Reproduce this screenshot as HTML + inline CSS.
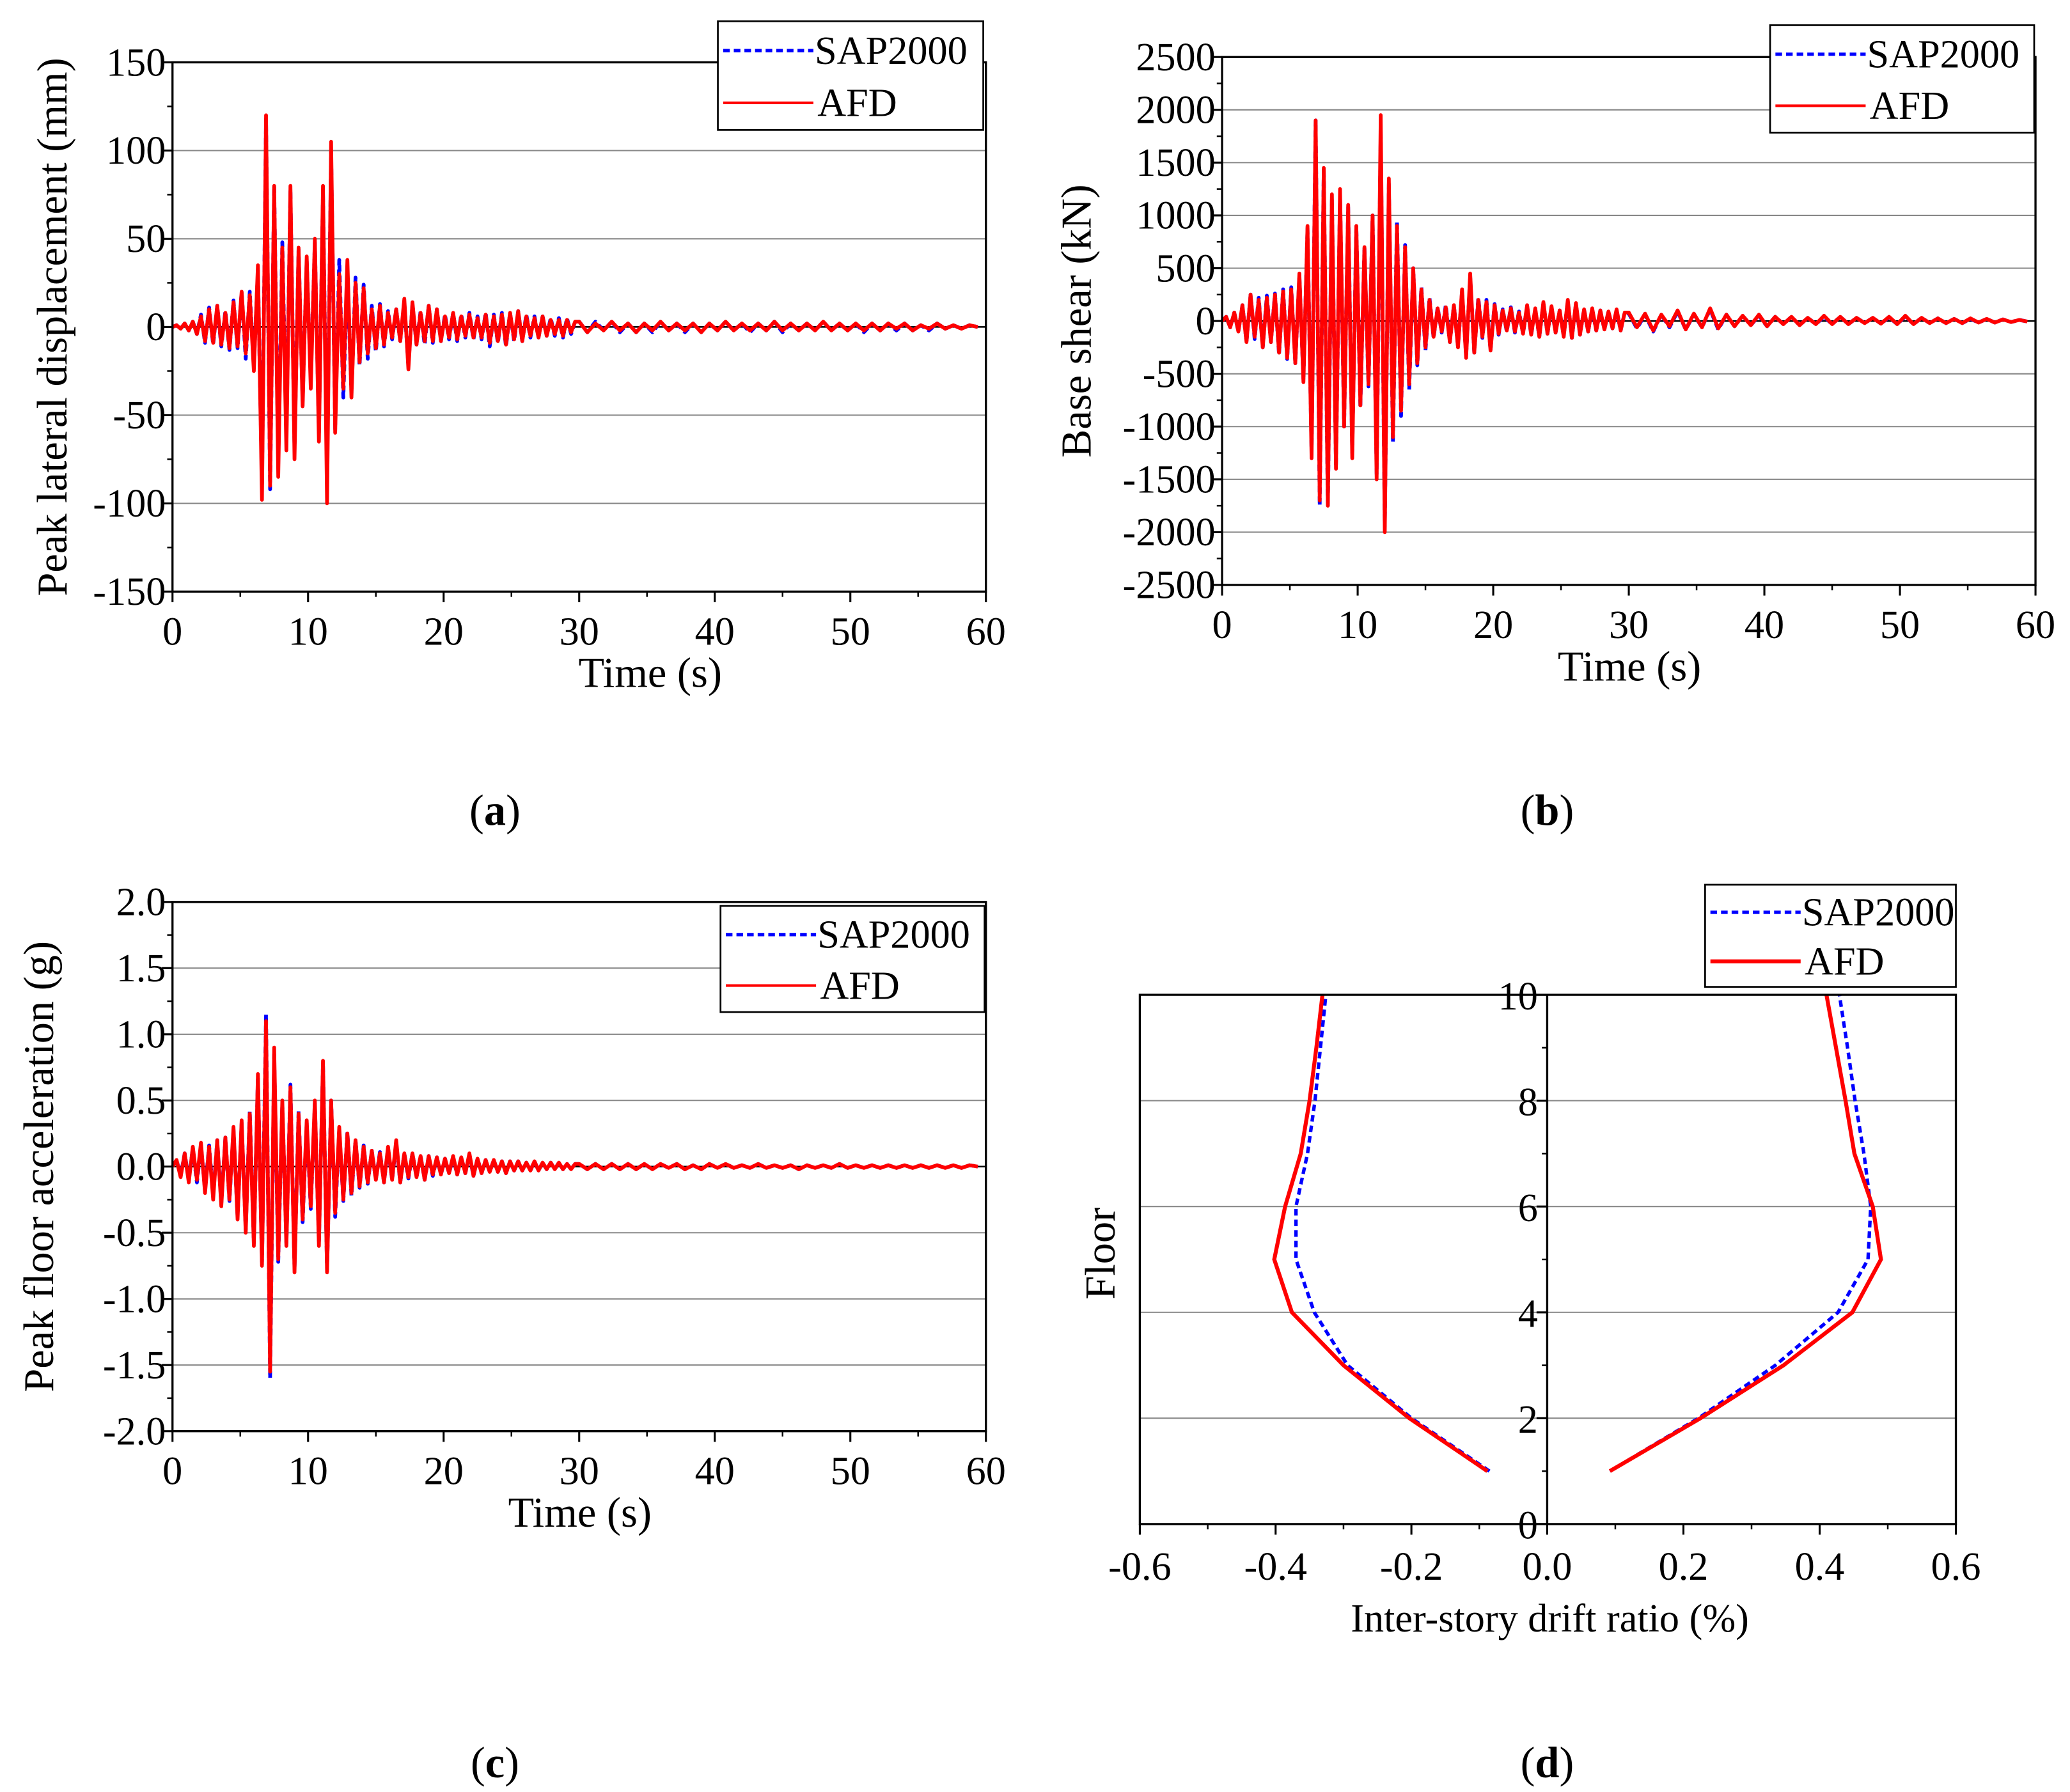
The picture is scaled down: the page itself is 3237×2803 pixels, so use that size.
<!DOCTYPE html>
<html><head><meta charset="utf-8"><style>
html,body{margin:0;padding:0;background:#fff;}
svg{display:block;}
svg text{font-family:"Liberation Serif","Times New Roman",serif;fill:#000;}
</style></head><body>
<svg id="fig" xmlns="http://www.w3.org/2000/svg" width="3237" height="2803" viewBox="0 0 1560 1351" preserveAspectRatio="none" font-family="Liberation Serif, serif"></svg>
<script>
// ---- Panel (a) displacement data (head: dt 0.3 s from 0; tail: dt 0.6 s from 30) ----
const dispAfdHead=[0,1,-1,2,-2,3,-4,6,-8,10,-9,12,-10,8,-12,14,-11,20,-15,18,-25,
35,-98,120,-90,80,-85,45,-70,80,-75,45,-45,40,-35,50,-65,80,-100,105,-60,30,-35,38,-40,25,-20,22,-15,10,-12,12,-10,8,-6,10,-8,16,-24,14,-10,8,-8,12,-8,10,-8,6,-6,8,-7,6,-5,7,-6,5,-6,7,-9,6,-8,7,-10,8,-7,9,-8,6,-5,5,-6,6,-5,4,-4,4,-5,4,-3,3];
const dispSapHead=[0,1,-1,2,-2,3,-4,7,-9,11,-10,12,-11,9,-13,15,-12,20,-18,20,-22,
32,-90,118,-92,80,-78,48,-62,78,-70,44,-42,38,-30,48,-60,76,-85,100,-58,38,-40,30,-38,28,-22,24,-18,12,-14,13,-11,9,-7,10,-8,14,-22,13,-10,9,-10,12,-9,10,-8,7,-7,8,-8,7,-6,8,-7,6,-7,8,-11,7,-9,8,-11,8,-8,9,-8,7,-6,6,-6,6,-5,5,-5,5,-6,5,-4,3];
const dispAfdTail=[3,-3,2,-2,3,-2,2,-3,2,-2,3,-2,2,-2,2,-3,2,-2,3,-2,2,-2,2,-2,3,-2,2,-2,2,-2,3,-2,2,-2,2,-2,2,-2,2,-1,2,-2,1,-1,2,-1,1,-1,1,0];
const dispSapTail=[3,-3,3,-2,3,-3,2,-3,2,-3,3,-2,2,-3,2,-3,2,-2,3,-2,2,-3,2,-2,3,-3,2,-2,2,-2,3,-2,2,-2,2,-3,2,-2,2,-2,2,-2,1,-2,2,-1,1,-1,1,0];
// ---- Panel (b) base shear data ----
const shearAfdHead=[0,40,-60,80,-100,150,-200,250,-150,200,-250,220,-200,250,-300,280,-350,300,-400,450,-580,
900,-1300,1900,-1700,1450,-1750,1200,-1400,1250,-1000,1100,-1300,900,-800,700,-600,1000,-1500,1950,-2000,1350,-1100,900,-850,700,-600,500,-400,300,-250,200,-150,120,-100,130,-200,150,-250,300,-350,450,-300,200,-150,180,-280,150,-120,100,-90,120,-100,80,-120,150,-130,120,-150,180,-120,140,-110,100,-150,200,-160,170,-130,110,-100,120,-90,100,-80,90,-70,110,-90,80];
const shearSapHead=[0,40,-60,80,-100,150,-200,250,-170,220,-250,240,-200,260,-320,300,-360,320,-400,430,-560,
880,-1250,1900,-1750,1450,-1760,1150,-1380,1200,-1000,1080,-1250,900,-820,700,-620,1000,-1450,1800,-1950,1300,-1150,950,-900,720,-650,500,-420,320,-280,220,-160,130,-110,150,-200,150,-240,280,-330,420,-300,220,-160,200,-280,160,-130,110,-100,130,-110,90,-120,140,-130,110,-150,170,-120,130,-110,100,-140,190,-160,160,-130,110,-100,110,-90,100,-80,90,-70,100,-90,80];
const shearAfdTail=[80,-60,70,-90,60,-50,100,-80,70,-60,120,-70,60,-50,50,-40,60,-50,40,-30,40,-40,30,-30,50,-30,40,-30,30,-20,30,-25,40,-30,50,-30,30,-20,25,-20,20,-20,25,-15,20,-15,15,-10,10,-5];
const shearSapTail=[70,-70,60,-100,60,-60,90,-80,60,-60,110,-80,60,-50,50,-40,50,-50,40,-30,40,-40,30,-30,40,-30,40,-30,30,-20,30,-25,35,-30,45,-30,30,-20,25,-20,20,-20,20,-15,20,-15,15,-10,10,-5];
// ---- Panel (c) acceleration data ----
const accAfdHead=[0,0.05,-0.08,0.1,-0.12,0.15,-0.1,0.18,-0.2,0.15,-0.25,0.2,-0.3,0.22,-0.25,0.3,-0.4,0.35,-0.5,0.4,-0.6,
0.7,-0.75,1.1,-1.55,0.9,-0.7,0.5,-0.6,0.6,-0.8,0.4,-0.4,0.35,-0.3,0.5,-0.6,0.8,-0.8,0.5,-0.35,0.3,-0.25,0.25,-0.2,0.2,-0.15,0.15,-0.12,0.12,-0.1,0.1,-0.12,0.15,-0.1,0.2,-0.12,0.1,-0.08,0.1,-0.08,0.08,-0.1,0.08,-0.06,0.07,-0.06,0.06,-0.05,0.08,-0.06,0.07,-0.05,0.1,-0.07,0.06,-0.05,0.05,-0.04,0.05,-0.04,0.04,-0.05,0.04,-0.03,0.04,-0.03,0.03,-0.03,0.04,-0.03,0.03,-0.02,0.03,-0.02,0.03,-0.02,0.02,-0.02,0.02];
const accSapHead=[0,0.05,-0.07,0.1,-0.1,0.14,-0.12,0.16,-0.18,0.16,-0.22,0.2,-0.28,0.22,-0.26,0.28,-0.38,0.33,-0.48,0.42,-0.58,
0.68,-0.72,1.15,-1.6,0.85,-0.72,0.48,-0.58,0.62,-0.78,0.42,-0.42,0.33,-0.32,0.48,-0.58,0.78,-0.78,0.5,-0.38,0.28,-0.26,0.26,-0.22,0.2,-0.16,0.16,-0.13,0.12,-0.1,0.11,-0.12,0.14,-0.1,0.18,-0.12,0.1,-0.09,0.1,-0.08,0.08,-0.1,0.08,-0.07,0.07,-0.06,0.06,-0.05,0.07,-0.06,0.07,-0.05,0.09,-0.07,0.06,-0.05,0.05,-0.04,0.05,-0.04,0.04,-0.05,0.04,-0.03,0.04,-0.03,0.03,-0.03,0.04,-0.03,0.03,-0.02,0.03,-0.02,0.03,-0.02,0.02,-0.02,0.02];
const accAfdTail=[0.02,-0.02,0.02,-0.02,0.02,-0.02,0.02,-0.02,0.02,-0.02,0.02,-0.01,0.02,-0.02,0.01,-0.02,0.02,-0.01,0.02,-0.01,0.01,-0.01,0.02,-0.01,0.01,-0.01,0.01,-0.02,0.01,-0.01,0.01,-0.01,0.02,-0.01,0.01,-0.01,0.01,-0.01,0.01,-0.01,0.01,-0.01,0.01,-0.01,0.01,-0.01,0.01,-0.01,0.01,0];
const accSapTail=accAfdTail.slice();
// ---- Panel (d) inter-story drift ----
const floors=[1,2,3,4,5,6,7,8,9,10];
const driftNegSap=[-0.085,-0.2,-0.294,-0.343,-0.37,-0.37,-0.353,-0.342,-0.334,-0.326];
const driftNegAfd=[-0.088,-0.203,-0.30,-0.376,-0.402,-0.386,-0.363,-0.35,-0.34,-0.331];
const driftPosSap=[0.092,0.222,0.335,0.427,0.471,0.475,0.465,0.452,0.441,0.429];
const driftPosAfd=[0.092,0.225,0.347,0.448,0.49,0.478,0.451,0.438,0.424,0.41];
const dispTicks=[-150,-100,-50,0,50,100,150];
const shearTicks=[-2500,-2000,-1500,-1000,-500,0,500,1000,1500,2000,2500];
const accTicks=[-2.0,-1.5,-1.0,-0.5,0.0,0.5,1.0,1.5,2.0];
const timeTicks=[0,10,20,30,40,50,60];
const floorTicks=[0,2,4,6,8,10];
const driftTicksNeg=[-0.6,-0.4,-0.2,0.0];
const driftTicksPos=[0.2,0.4,0.6];

const NS='http://www.w3.org/2000/svg';
const FONT='Liberation Serif, Times New Roman, serif';
const svg=document.getElementById('fig');
function mk(tag,attrs,parent){const e=document.createElementNS(NS,tag);for(const k in attrs)e.setAttribute(k,attrs[k]);(parent||svg).appendChild(e);return e;}
function txt(s,x,y,size,anchor,parent){const t=mk('text',{x:x,y:y,'font-size':size,'text-anchor':anchor||'middle','font-family':FONT},parent);t.textContent=s;return t;}

function seriesPts(head,tail,sx,sy){const p=[];head.forEach((v,i)=>p.push(sx(i*0.3)+','+sy(v)));tail.forEach((v,i)=>p.push(sx(30+i*0.6)+','+sy(v)));return p.join(' ');}

function timePanel(o){
  const g=mk('g',{});
  
  
  const sx=t=>o.x0+(t-0)/60*(o.x1-o.x0);
  const sy=v=>o.y1-(v-o.ymin)/(o.ymax-o.ymin)*(o.y1-o.y0);
  const step=o.ticks[1]-o.ticks[0];
  o.ticks.forEach(v=>{
    const y=sy(v);
    if(v!==o.ymin&&v!==o.ymax){const l=mk('line',{x1:o.x0,x2:o.x1,y1:y,y2:y,stroke:'#888','stroke-width':1},g);}
    mk('line',{x1:o.x0-8,x2:o.x0,y1:y,y2:y,stroke:'#000','stroke-width':1.5},g);
    const t=txt(o.fmt(v),o.x0-5,y+10,30,'end',g);
    
    
  });
  for(let i=0;i<o.ticks.length-1;i++){const y=sy(o.ticks[i]+step/2);mk('line',{x1:o.x0-4,x2:o.x0,y1:y,y2:y,stroke:'#000','stroke-width':1.2},g);}
  timeTicks.forEach(v=>{
    const x=sx(v);mk('line',{x1:x,x2:x,y1:o.y1,y2:o.y1+8,stroke:'#000','stroke-width':1.5},g);
    const t=txt(String(v),x,o.y1+40,30,'middle',g);
    
    
    if(v<60){const xm=sx(v+5);mk('line',{x1:xm,x2:xm,y1:o.y1,y2:o.y1+4,stroke:'#000','stroke-width':1.2},g);}
  });
  mk('line',{x1:o.x0,x2:o.x1,y1:sy(0),y2:sy(0),stroke:'#000','stroke-width':1.2},g);
  const sap=mk('polyline',{points:seriesPts(o.sapH,o.sapT,sx,sy),fill:'none',stroke:'#0000ff','stroke-width':2.8,'stroke-dasharray':'5,3','stroke-linejoin':'round'},g);
  
  
  const afd=mk('polyline',{points:seriesPts(o.afdH,o.afdT,sx,sy),fill:'none',stroke:'#ff0000','stroke-width':2.8,'stroke-linejoin':'round'},g);
  
  
  const fr=mk('rect',{x:o.x0,y:o.y0,width:o.x1-o.x0,height:o.y1-o.y0,fill:'none',stroke:'#000','stroke-width':1.6},g);
  
  
  const xl=txt('Time (s)',o.xlabX,o.y1+72,32,'middle',g);
  
  
  const yl=txt(o.ylabel,0,0,32,'middle',g);
  yl.setAttribute('transform','translate('+o.ylabX+','+((o.y0+o.y1)/2)+') rotate(-90)');
  
  
  legend(o.leg[0],o.leg[1],o.leg[2],o.leg[3],g,2);
}
function legend(x,y,w,h,parent,sw){
  const lg=mk('g',{},parent);
  
  
  mk('rect',{x:x,y:y,width:w,height:h,fill:'#fff',stroke:'#000','stroke-width':1.3},lg);
  const e1=mk('g',{},lg);
  
  
  mk('line',{x1:x+4,x2:x+72,y1:y+h*0.27,y2:y+h*0.27,stroke:'#0000ff','stroke-width':2.5,'stroke-dasharray':'5,3'},e1);
  txt('SAP2000',x+73,y+h*0.27+10,30,'start',e1);
  const e2=mk('g',{},lg);
  
  
  mk('line',{x1:x+4,x2:x+72,y1:y+h*0.75,y2:y+h*0.75,stroke:'#ff0000','stroke-width':sw},e2);
  txt('AFD',x+75,y+h*0.75+10,30,'start',e2);
}

timePanel({name:'panel-a-displacement',x0:130,x1:743,y0:47,y1:446,ymin:-150,ymax:150,ticks:dispTicks,fmt:v=>String(v),
  sapH:dispSapHead,sapT:dispSapTail,afdH:dispAfdHead,afdT:dispAfdTail,xlabX:490,ylabel:'Peak lateral displacement (mm)',ylabX:50,leg:[541,16,200,82]});
timePanel({name:'panel-b-base-shear',x0:921,x1:1534,y0:43,y1:441,ymin:-2500,ymax:2500,ticks:shearTicks,fmt:v=>String(v),
  sapH:shearSapHead,sapT:shearSapTail,afdH:shearAfdHead,afdT:shearAfdTail,xlabX:1228,ylabel:'Base shear (kN)',ylabX:822,leg:[1334,19,199,81]});
timePanel({name:'panel-c-acceleration',x0:130,x1:743,y0:680,y1:1079,ymin:-2,ymax:2,ticks:accTicks,fmt:v=>v.toFixed(1),
  sapH:accSapHead,sapT:accSapTail,afdH:accAfdHead,afdT:accAfdTail,xlabX:437,ylabel:'Peak floor acceleration (g)',ylabX:40,leg:[543,683,199,80]});

// ---- panel d ----
(function(){
  const g=mk('g',{});
  
  
  const xL=859,xM=1166,xR=1474,y0=750,y1=1149;
  const sxN=v=>xL+(v+0.6)/0.6*(xM-xL);
  const sxP=v=>xM+v/0.6*(xR-xM);
  const sy=f=>y1-f/10*(y1-y0);
  floorTicks.forEach(f=>{
    const y=sy(f);
    if(f!==0&&f!==10){const l=mk('line',{x1:xL,x2:xR,y1:y,y2:y,stroke:'#888','stroke-width':1},g);}
    mk('line',{x1:xM-8,x2:xM,y1:y,y2:y,stroke:'#000','stroke-width':1.5},g);
    const t=txt(String(f),xM-7,y+11,30,'end',g);
    
    
    if(f<10){const ym=sy(f+1);mk('line',{x1:xM-4,x2:xM,y1:ym,y2:ym,stroke:'#000','stroke-width':1.2},g);}
  });
  driftTicksNeg.forEach(v=>{const x=sxN(v);mk('line',{x1:x,x2:x,y1:y1,y2:y1+8,stroke:'#000','stroke-width':1.5},g);
    const t=txt(v.toFixed(1),x,y1+42,30,'middle',g);
    if(v<0){const xm=sxN(v+0.1);mk('line',{x1:xm,x2:xm,y1:y1,y2:y1+4,stroke:'#000','stroke-width':1.2},g);}});
  driftTicksPos.forEach(v=>{const x=sxP(v);mk('line',{x1:x,x2:x,y1:y1,y2:y1+8,stroke:'#000','stroke-width':1.5},g);
    const t=txt(v.toFixed(1),x,y1+42,30,'middle',g);
    const xm=sxP(v-0.1);mk('line',{x1:xm,x2:xm,y1:y1,y2:y1+4,stroke:'#000','stroke-width':1.2},g);});
  function pl(arr,sx,color,dash,name){
    const p=mk('polyline',{points:arr.map((v,i)=>sx(v)+','+sy(floors[i])).join(' '),fill:'none',stroke:color,'stroke-width':dash?2.6:3,'stroke-dasharray':dash?'5,3':'none'},g);
    
    
  }
  pl(driftNegSap,sxN,'#0000ff',true,'sap2000-negative-drift');
  pl(driftNegAfd,sxN,'#ff0000',false,'afd-negative-drift');
  pl(driftPosSap,sxP,'#0000ff',true,'sap2000-positive-drift');
  pl(driftPosAfd,sxP,'#ff0000',false,'afd-positive-drift');
  mk('rect',{x:xL,y:y0,width:xR-xL,height:y1-y0,fill:'none',stroke:'#000','stroke-width':1.6},g);
  mk('line',{x1:xM,x2:xM,y1:y0,y2:y1,stroke:'#000','stroke-width':1.6},g);
  const xl=txt('Inter-story drift ratio (%)',1168,1230,30,'middle',g);
  
  
  const yl=txt('Floor',0,0,32,'middle',g);
  yl.setAttribute('transform','translate(840,945) rotate(-90)');
  
  
  legend(1285,667,189,77,g,3);
})();

[['(a)',373,622],['(b)',1166,622],['(c)',373,1340],['(d)',1166,1340]].forEach(c=>{
  const t=mk('text',{x:c[1],y:c[2],'font-size':33,'text-anchor':'middle','font-family':FONT});
  t.innerHTML='(<tspan font-weight="bold">'+c[0][1]+'</tspan>)';
  
  
});
</script>
</body></html>
